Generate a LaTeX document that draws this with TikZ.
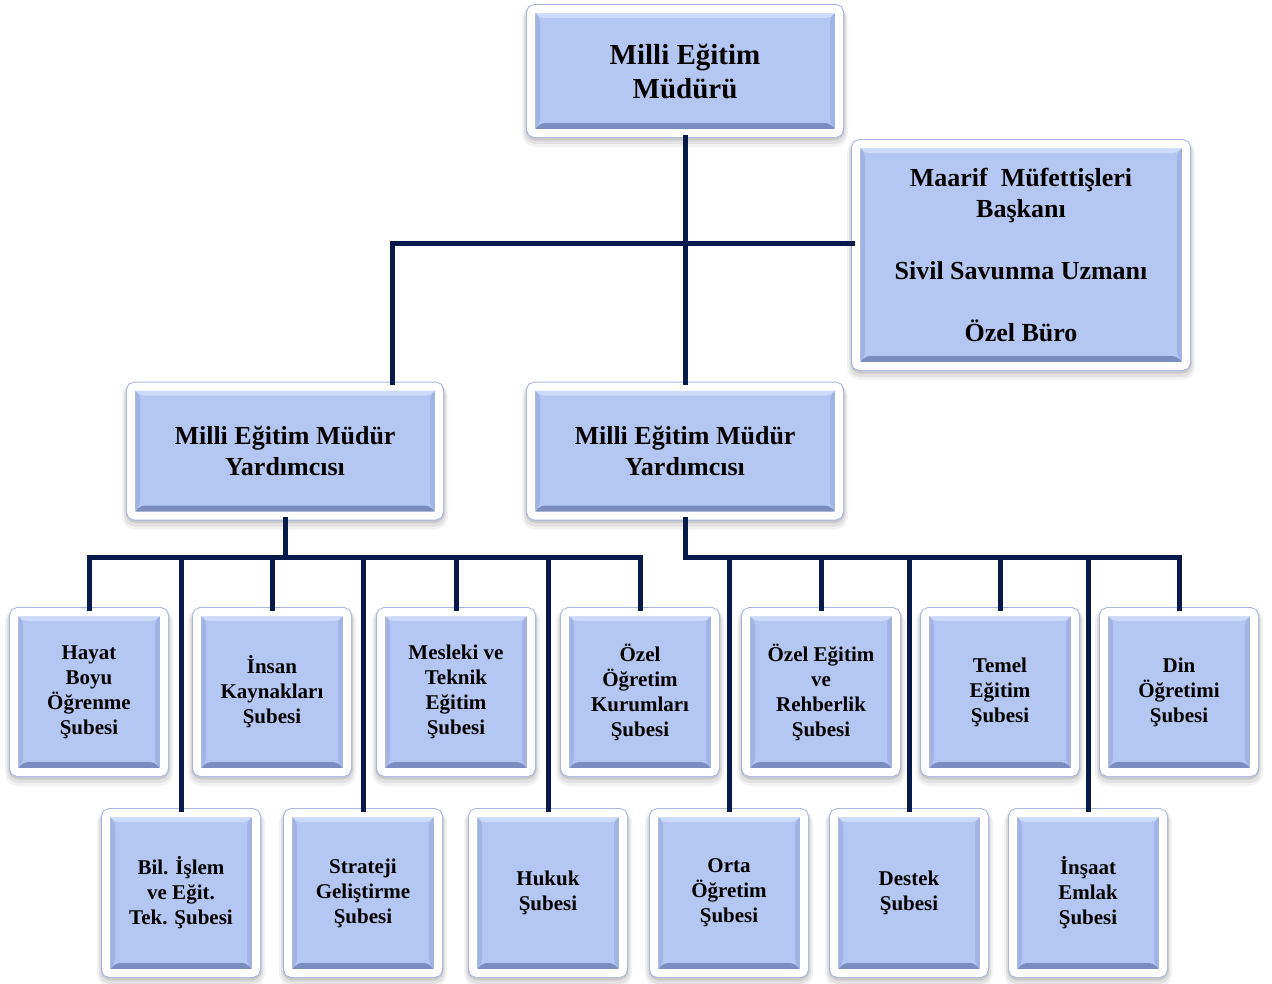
\documentclass[tikz,border=0pt]{standalone}
\usepackage{fontspec}
\setmainfont{Liberation Serif}
\usepackage{xcolor}
\usepackage{tikz}

\definecolor{boxblue}{RGB}{180,199,242}
\definecolor{bevlight}{RGB}{204,219,251}
\definecolor{bevside}{RGB}{160,179,228}
\definecolor{bevdark}{RGB}{122,141,190}
\definecolor{rimblue}{RGB}{168,182,222}
\definecolor{linknavy}{RGB}{8,26,76}

\tikzset{
  unitbox/.style={rectangle, draw=white, line width=8pt, rounded corners=4pt, fill=boxblue,
    outer sep=4pt, inner sep=0pt, align=center, text=black,
    % soft shadow, then the thin rim outline
    preaction={draw=black, draw opacity=.05, line width=18pt, line join=round, transform canvas={yshift=-5pt}},
    preaction={draw=black, draw opacity=.07, line width=14pt, line join=round, transform canvas={yshift=-4pt}},
    preaction={draw=black, draw opacity=.10, line width=11pt, line join=round, transform canvas={yshift=-2pt}},
    preaction={draw=rimblue, line width=10pt},
    path picture={
      \fill[bevlight] (path picture bounding box.north west) -- (path picture bounding box.north east)
        -- ([shift={(-9pt,-9pt)}]path picture bounding box.north east)
        -- ([shift={(9pt,-9pt)}]path picture bounding box.north west) -- cycle;
      \fill[bevdark] (path picture bounding box.south west) -- (path picture bounding box.south east)
        -- ([shift={(-10pt,10pt)}]path picture bounding box.south east)
        -- ([shift={(10pt,10pt)}]path picture bounding box.south west) -- cycle;
      \fill[bevside] (path picture bounding box.north west) -- ([shift={(9pt,-9pt)}]path picture bounding box.north west)
        -- ([shift={(9pt,10pt)}]path picture bounding box.south west) -- (path picture bounding box.south west) -- cycle;
      \fill[bevside] (path picture bounding box.north east) -- ([shift={(-9pt,-9pt)}]path picture bounding box.north east)
        -- ([shift={(-9pt,10pt)}]path picture bounding box.south east) -- (path picture bounding box.south east) -- cycle;
    }},
  headbox/.style={unitbox, minimum width=308pt, minimum height=124pt, font=\bfseries\fontsize{29}{34}\selectfont},
  deputybox/.style={unitbox, minimum width=308pt, minimum height=129pt, font=\bfseries\fontsize{26}{31}\selectfont},
  staffbox/.style={unitbox, minimum width=330pt, minimum height=222pt, font=\bfseries\fontsize{26}{31}\selectfont},
  branchbox/.style={unitbox, minimum width=150pt, minimum height=160pt, font=\bfseries\fontsize{21}{25}\selectfont},
  link/.style={draw=linknavy, line width=5pt, line cap=rect},
}

\begin{document}
\begin{tikzpicture}[x=1pt, y=-1pt]
    \useasboundingbox (0,0) rectangle (1272,983);
    % Management
    \node[headbox]   (mem)  at ( 685,  71) {Milli Eğitim\\Müdürü};
    \node[staffbox]  (mmb)  at (1021, 255) {Maarif~ Müfettişleri\\Başkanı\\[31pt]Sivil Savunma Uzmanı\\[31pt]Özel Büro};
    \node[deputybox] (myr1) at ( 285, 451) {Milli Eğitim Müdür\\Yardımcısı};
    \node[deputybox] (myr2) at ( 685, 451) {Milli Eğitim Müdür\\Yardımcısı};
    % Branches, upper row
    \node[branchbox] (hbo)  at (  89, 692) {Hayat\\Boyu\\Öğrenme\\Şubesi};
    \node[branchbox] (ik)   at ( 272, 692) {İnsan\\Kaynakları\\Şubesi};
    \node[branchbox] (mte)  at ( 456, 692) {Mesleki ve\\Teknik\\Eğitim\\Şubesi};
    \node[branchbox] (ooku) at ( 640, 692) {Özel\\Öğretim\\Kurumları\\Şubesi};
    \node[branchbox] (oerb) at ( 821, 692) {Özel Eğitim\\ve\\Rehberlik\\Şubesi};
    \node[branchbox] (teg)  at (1000, 692) {Temel\\Eğitim\\Şubesi};
    \node[branchbox] (dog)  at (1179, 692) {Din\\Öğretimi\\Şubesi};
    % Branches, lower row
    \node[branchbox] (bil)  at ( 181, 893) {Bil. İşlem\\ve Eğit.\\Tek. Şubesi};
    \node[branchbox] (str)  at ( 363, 893) {Strateji\\Geliştirme\\Şubesi};
    \node[branchbox] (huk)  at ( 548, 893) {Hukuk\\Şubesi};
    \node[branchbox] (orta) at ( 729, 893) {Orta\\Öğretim\\Şubesi};
    \node[branchbox] (des)  at ( 909, 893) {Destek\\Şubesi};
    \node[branchbox] (ins)  at (1088, 893) {İnşaat\\Emlak\\Şubesi};
    % Top level lines
    \coordinate (tbus) at (392, 243);
    \draw[link] (mem.south) -- (myr2.north);
    \draw[link] (tbus |- myr1.north) -- (tbus) -- (tbus -| mmb.west);
    % Left deputy bus
    \coordinate (lbus) at (0, 557);
    \draw[link] (myr1.south) -- (myr1.south |- lbus);
    \draw[link] (hbo.north |- lbus) -- (ooku.north |- lbus);
    \foreach \b in {hbo,ik,mte,ooku,bil,str,huk}
        \draw[link] (\b.north |- lbus) -- (\b.north);
    % Right deputy bus
    \draw[link] (myr2.south) -- (myr2.south |- lbus) -- (dog.north |- lbus);
    \foreach \b in {oerb,teg,dog,orta,des,ins}
        \draw[link] (\b.north |- lbus) -- (\b.north);
\end{tikzpicture}
\end{document}
